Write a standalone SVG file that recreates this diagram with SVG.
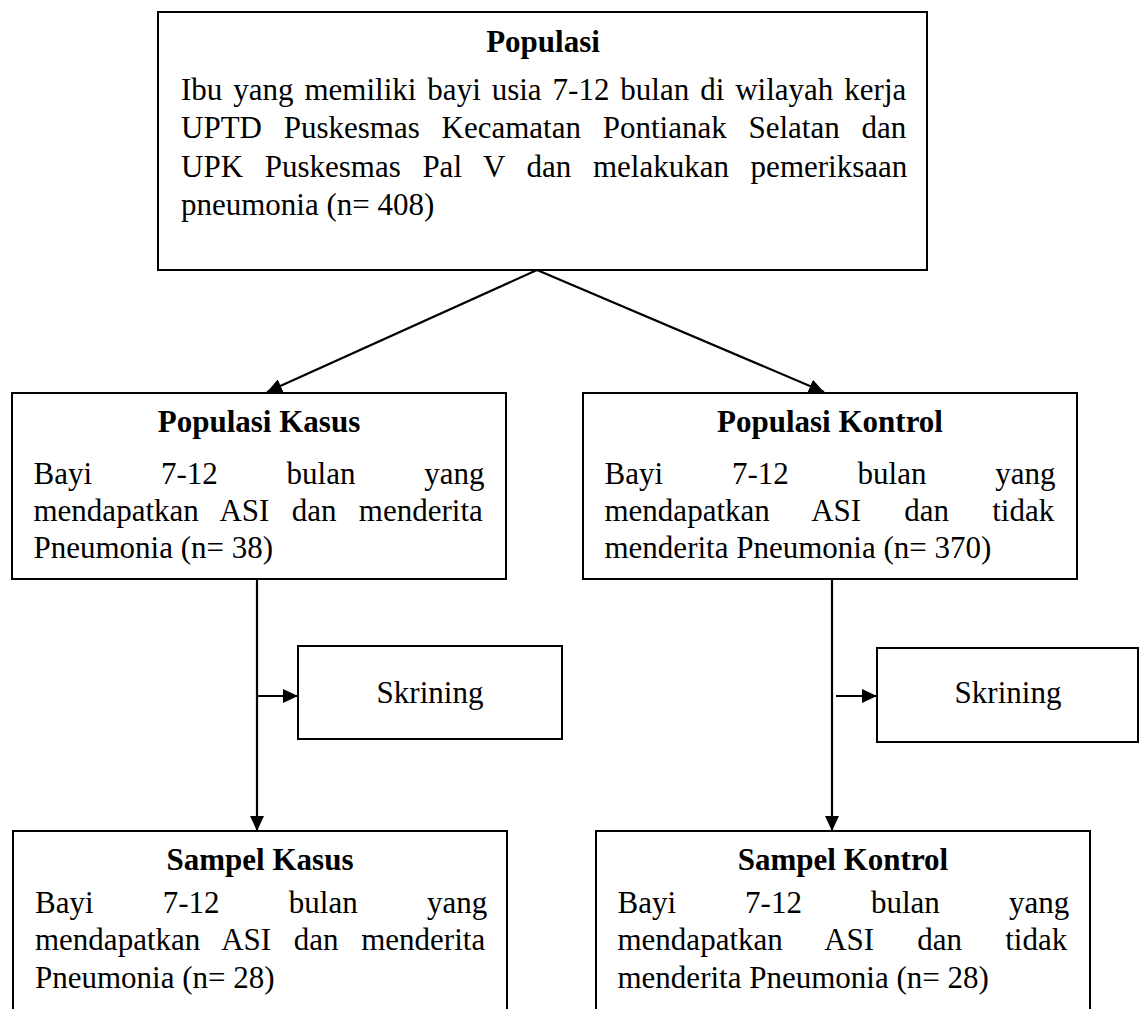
<svg xmlns="http://www.w3.org/2000/svg" width="1139" height="1009" viewBox="0 0 1139 1009">
<style>
.box{fill:#fff;stroke:#000;stroke-width:2}
.t{font-family:"Liberation Serif","Times New Roman",serif;font-size:31px;fill:#000}
.b{font-weight:bold;text-anchor:middle}
.m{text-anchor:middle}
.c{fill:none;stroke:#000;stroke-width:2.2}
</style>
<defs>
<marker id="ah" markerUnits="userSpaceOnUse" markerWidth="15" markerHeight="14" refX="15" refY="7" orient="auto">
<path d="M0,0 L15,7 L0,14 Z" fill="#000"/>
</marker>
</defs>
<rect width="1139" height="1009" fill="#fff"/>
<g id="populasi">
<rect class="box" x="158" y="12" width="769" height="258"/>
<text class="t b" x="543" y="52">Populasi</text>
<text class="t" x="181" y="100" word-spacing="3.2">Ibu yang memiliki bayi usia 7-12 bulan di wilayah kerja</text>
<text class="t" x="181" y="138" word-spacing="14">UPTD Puskesmas Kecamatan Pontianak Selatan dan</text>
<text class="t" x="181" y="176.5" word-spacing="13.9">UPK Puskesmas Pal V dan melakukan pemeriksaan</text>
<text class="t" x="181" y="215">pneumonia (n= 408)</text>
</g>
<g id="populasi-kasus">
<rect class="box" x="12" y="393" width="494" height="186"/>
<text class="t b" x="259" y="432">Populasi Kasus</text>
<text class="t" x="33.5" y="484" word-spacing="61.1">Bayi 7-12 bulan yang</text>
<text class="t" x="33.5" y="521" word-spacing="14.6">mendapatkan ASI dan menderita</text>
<text class="t" x="33.5" y="558">Pneumonia (n= 38)</text>
</g>
<g id="populasi-kontrol">
<rect class="box" x="583" y="393" width="494" height="186"/>
<text class="t b" x="830" y="432">Populasi Kontrol</text>
<text class="t" x="604.5" y="484" word-spacing="61.1">Bayi 7-12 bulan yang</text>
<text class="t" x="604.5" y="521" word-spacing="35.4">mendapatkan ASI dan tidak</text>
<text class="t" x="604.5" y="558">menderita Pneumonia (n= 370)</text>
</g>
<g id="skrining-kasus">
<rect class="box" x="298" y="646" width="264" height="93"/>
<text class="t m" x="430" y="703">Skrining</text>
</g>
<g id="skrining-kontrol">
<rect class="box" x="877" y="648" width="261" height="94"/>
<text class="t m" x="1008" y="703">Skrining</text>
</g>
<g id="sampel-kasus">
<rect class="box" x="13" y="831" width="494" height="200"/>
<text class="t b" x="260" y="870">Sampel Kasus</text>
<text class="t" x="35" y="912.5" word-spacing="61.5">Bayi 7-12 bulan yang</text>
<text class="t" x="35" y="950" word-spacing="14.9">mendapatkan ASI dan menderita</text>
<text class="t" x="35" y="987.5">Pneumonia (n= 28)</text>
</g>
<g id="sampel-kontrol">
<rect class="box" x="596" y="831" width="494" height="200"/>
<text class="t b" x="843" y="870">Sampel Kontrol</text>
<text class="t" x="617.5" y="912.5" word-spacing="61.3">Bayi 7-12 bulan yang</text>
<text class="t" x="617.5" y="950" word-spacing="35.4">mendapatkan ASI dan tidak</text>
<text class="t" x="617.5" y="987.5">menderita Pneumonia (n= 28)</text>
</g>
<g id="connectors">
<line class="c" x1="537" y1="270" x2="267" y2="392" marker-end="url(#ah)"/>
<line class="c" x1="537" y1="270" x2="824" y2="392" marker-end="url(#ah)"/>
<line class="c" x1="257" y1="579" x2="257" y2="831" marker-end="url(#ah)"/>
<line class="c" x1="257" y1="696" x2="298" y2="696" marker-end="url(#ah)"/>
<line class="c" x1="832" y1="579" x2="832" y2="831" marker-end="url(#ah)"/>
<line class="c" x1="836" y1="696" x2="877" y2="696" marker-end="url(#ah)"/>
</g>
</svg>
